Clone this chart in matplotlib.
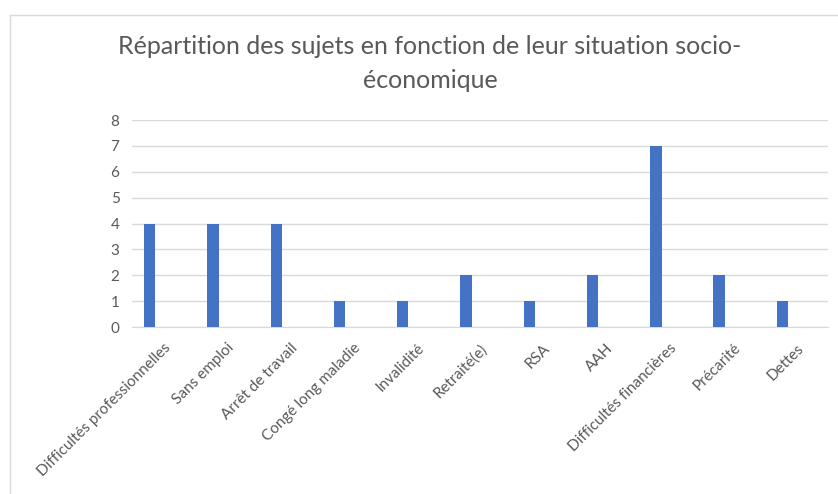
import matplotlib.pyplot as plt
import numpy as np
from matplotlib.patches import Rectangle

categories = ['Difficultés professionnelles', 'Sans emploi', 'Arrêt de travail',
              'Congé long maladie', 'Invalidité', 'Retraité(e)', 'RSA', 'AAH',
              'Difficultés financières', 'Précarité', 'Dettes']
values = [4, 4, 4, 1, 1, 2, 1, 2, 7, 2, 1]

plt.rcParams['font.family'] = ['Lato', 'DejaVu Sans']
grey = '#595959'

fig = plt.figure(figsize=(8.38, 4.94), dpi=100)
ax = fig.add_axes([0.1575, 0.338, 0.8305, 0.419])

# chart area border
fig.patches.append(Rectangle((10 / 838, -0.1), 1.0, 1.1 - 15 / 494,
                             transform=fig.transFigure, fill=False,
                             edgecolor='#d9d9d9', linewidth=1))

x = np.arange(len(categories))
ax.bar(x - 0.22, values, width=0.18, color='#4472C4', zorder=3)

ax.set_xlim(-0.5, len(categories) - 0.5)
ax.set_ylim(0, 8)
ax.set_yticks(range(0, 9))
ax.yaxis.grid(True, color='#d9d9d9', linewidth=1, zorder=0)
for s in ['top', 'right', 'left']:
    ax.spines[s].set_visible(False)
ax.spines['bottom'].set_color('#d9d9d9')
ax.tick_params(axis='both', length=0, labelsize=11, colors=grey)
ax.tick_params(axis='y', pad=9)
ax.set_xticks(x)
ax.set_xticklabels(categories, rotation=45, ha='right', rotation_mode='anchor')
ax.tick_params(axis='x', pad=10)

fig.text(430 / 838, 1 - 47 / 494, 'Répartition des sujets en fonction de leur situation socio-',
         ha='center', va='center', fontsize=18, color=grey)
fig.text(430 / 838, 1 - 80 / 494, 'économique',
         ha='center', va='center', fontsize=18, color=grey)

plt.savefig('out.png', dpi=100)
